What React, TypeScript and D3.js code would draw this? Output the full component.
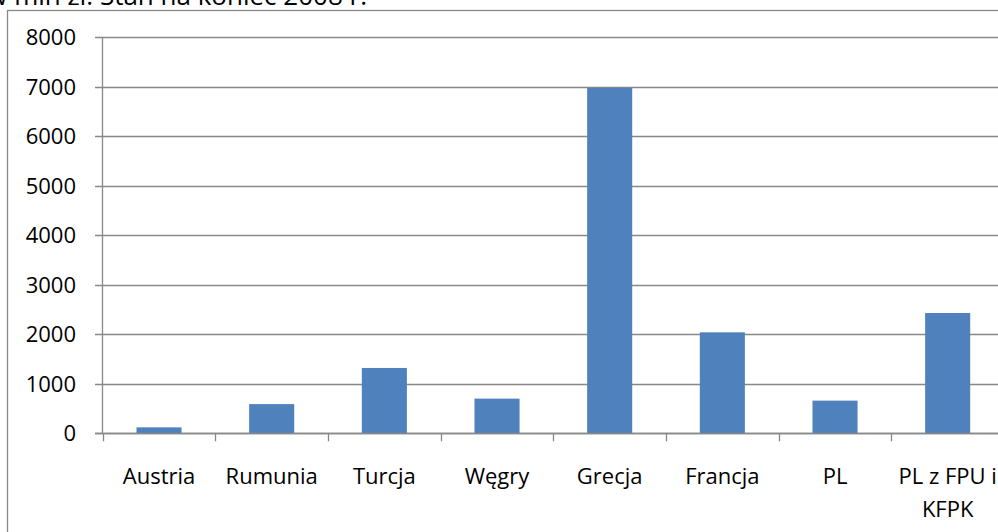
import React from "react";
import * as d3 from "d3";

// Kwoty w mln zł, stan na koniec 2008 r.
const categories: string[][] = [
  ["Austria"],
  ["Rumunia"],
  ["Turcja"],
  ["Węgry"],
  ["Grecja"],
  ["Francja"],
  ["PL"],
  ["PL z FPU i", "KFPK"],
];
const values: number[] = [120, 590, 1320, 700, 6980, 2040, 660, 2430];
const yTicks: number[] = [0, 1000, 2000, 3000, 4000, 5000, 6000, 7000, 8000];
const titleText = "w mln zł. Stan na koniec 2008 r.";

const W = 998;
const H = 532;
const plot = { left: 102.7, right: 1004, top: 37.3, bottom: 433.3 };
const FONT = "'Open Sans', 'Noto Sans', sans-serif";
const GRID = "#888888";

export default function App() {
  const x = d3
    .scaleBand<number>()
    .domain(d3.range(categories.length))
    .range([plot.left, plot.right])
    .paddingInner(0.6)
    .paddingOuter(0.3);
  const step = (plot.right - plot.left) / categories.length;
  const y = d3.scaleLinear().domain([0, 8000]).range([plot.bottom, plot.top]);

  return (
    <svg
      width={W}
      height={H}
      style={{ position: "absolute", left: 0, top: 0, background: "#fff" }}
      fontFamily={FONT}
    >
      {/* tytuł (ucięty u góry) */}
      <text x={367} y={5} textAnchor="end" fontSize={26} fill="#000">
        {titleText}
      </text>

      {/* ramka wykresu */}
      <rect x={7.5} y={10.5} width={1100} height={600} fill="#fff" stroke={GRID} strokeWidth={1.3} />

      {/* linie siatki i etykiety osi Y */}
      {yTicks.map((t) => {
        const yy = Math.round(y(t)) + 0.5;
        return (
          <g key={t}>
            <line x1={95} x2={W + 10} y1={yy} y2={yy} stroke={GRID} strokeWidth={1.3} />
            <text x={76} y={yy} dy="0.36em" textAnchor="end" fontSize={22} fill="#000">
              {t}
            </text>
          </g>
        );
      })}

      {/* oś Y */}
      <line x1={102.5} x2={102.5} y1={y(8000)} y2={y(0) + 0.5} stroke={GRID} strokeWidth={1.3} />

      {/* słupki */}
      {values.map((v, i) => (
        <rect
          key={i}
          x={x(i)}
          y={y(v)}
          width={x.bandwidth()}
          height={y(0) - y(v)}
          fill="#4f81bd"
        />
      ))}

      {/* oś X z podziałką */}
      <line x1={95} x2={W + 10} y1={Math.round(y(0)) + 0.5} y2={Math.round(y(0)) + 0.5} stroke={GRID} strokeWidth={1.3} />
      {d3.range(categories.length + 1).map((i) => {
        const xx = Math.round(plot.left + i * step) + 0.5;
        return (
          <line key={i} x1={xx} x2={xx} y1={y(0)} y2={y(0) + 8} stroke={GRID} strokeWidth={1.3} />
        );
      })}

      {/* etykiety kategorii */}
      {categories.map((lines, i) => {
        const cx = (x(i) ?? 0) + x.bandwidth() / 2;
        return (
          <text key={i} x={cx} y={484} textAnchor="middle" fontSize={22} fill="#000">
            {lines.map((ln, j) => (
              <tspan key={j} x={cx} dy={j === 0 ? 0 : 32.7}>
                {ln}
              </tspan>
            ))}
          </text>
        );
      })}
    </svg>
  );
}
